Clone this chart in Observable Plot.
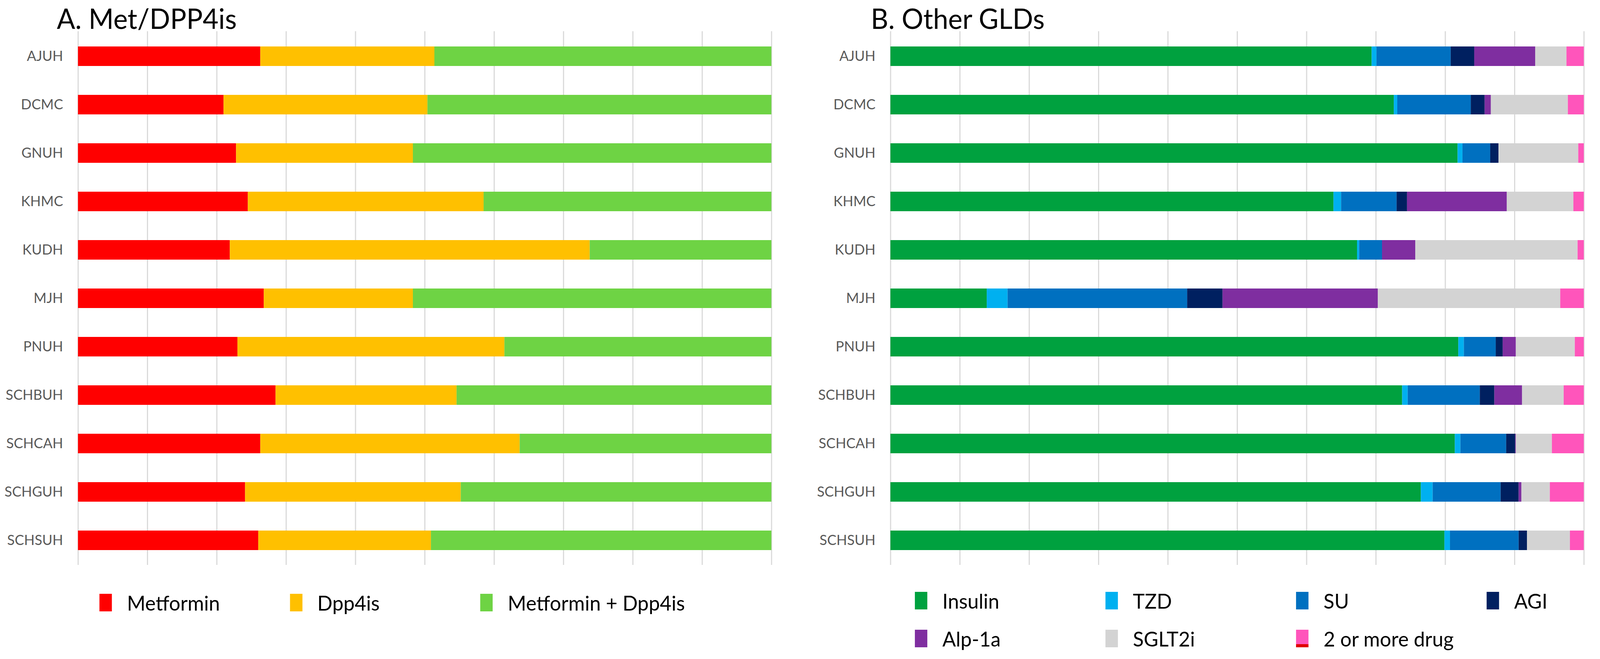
<!DOCTYPE html>
<html>
<head>
<meta charset="utf-8">
<script src="https://cdn.jsdelivr.net/npm/d3@7"></script>
<script src="https://cdn.jsdelivr.net/npm/@observablehq/plot@0.6"></script>
<style>
  html, body { margin: 0; padding: 0; background: #fff; overflow: hidden; }
  body { width: 100vw; height: 100vh; font-family: Lato, "Open Sans", sans-serif; }
  #root { position: absolute; left: 0; top: 0; width: 4248px; height: 1688px; transform-origin: 0 0; }
  .title { position: absolute; font-size: 72px; line-height: 72px; color: #000; white-space: nowrap; }
  .panel { position: absolute; }
  .sw { position: absolute; width: 33px; height: 45px; }
  .lab { position: absolute; font-size: 53px; line-height: 53px; color: #000; white-space: nowrap; }
</style>
</head>
<body>
<div id="root"></div>
<script>
// ---- data ----
const hospitals = ["AJUH","DCMC","GNUH","KHMC","KUDH","MJH","PNUH","SCHBUH","SCHCAH","SCHGUH","SCHSUH"];

// Panel A: Met/DPP4is (percent of patients)
const seriesA = ["Metformin","Dpp4is","Metformin + Dpp4is"];
const colorsA = ["#FF0000","#FFC000","#6ED344"];
const metformin = [26.3,21.0,22.8,24.5,21.9,26.8,23.0,28.5,26.3,24.1,26.0];
const dpp4is    = [25.1,29.4,25.5,34.0,51.9,21.5,38.5,26.1,37.4,31.1,24.9];
const metDpp4   = [48.6,49.6,51.7,41.5,26.2,51.7,38.5,45.4,36.3,44.8,49.1];

// Panel B: Other GLDs (percent of patients)
const seriesB = ["Insulin","TZD","SU","AGI","Alp-1a","SGLT2i","2 or more drug"];
const colorsB = ["#00A13F","#00B0F0","#0070C0","#002060","#7F2EA0","#D3D3D3","#FF55BB"];
const insulin = [69.4,72.6,81.8,63.9,67.3,13.9,81.9,73.8,81.4,76.5,79.9];
const tzd     = [0.7,0.5,0.7,1.1,0.3,3.0,0.8,0.8,0.8,1.7,0.8];
const su      = [10.7,10.6,4.0,8.0,3.3,25.9,4.6,10.4,6.6,9.8,9.9];
const agi     = [3.4,2.0,1.2,1.5,0,5.1,1.0,2.1,1.3,2.6,1.2];
const alp1a   = [8.8,0.9,0,14.4,4.8,22.4,1.9,4.0,0.1,0.4,0];
const sglt2i  = [4.5,11.1,11.5,9.6,23.4,26.3,8.5,6.0,5.2,4.1,6.2];
const twoPlus = [2.5,2.3,0.8,1.5,0.9,3.4,1.3,2.9,4.6,4.9,2.0];

const titleA = "A. Met/DPP4is";
const titleB = "B. Other GLDs";

// ---- build tidy tables ----
function tidy(series, valueArrays) {
  const rows = [];
  hospitals.forEach((h, i) => {
    series.forEach((s, j) => rows.push({hospital: h, series: s, value: valueArrays[j][i]}));
  });
  return rows;
}
const dataA = tidy(seriesA, [metformin, dpp4is, metDpp4]);
const dataB = tidy(seriesB, [insulin, tzd, su, agi, alp1a, sglt2i, twoPlus]);

const root = document.getElementById("root");
// fit the 4248x1688 design to whatever viewport the page is opened in
function fit() {
  const sx = window.innerWidth / 4248, sy = window.innerHeight / 1688;
  root.style.transform = `scale(${sx}, ${sy})`;
}
fit();
window.addEventListener("resize", fit);

function panel(data, series, colors, left) {
  const chart = Plot.plot({
    width: 2068,
    height: 1407,
    marginLeft: 207,
    marginRight: 20,
    marginTop: 20,
    marginBottom: 20,
    style: {fontFamily: "Lato, 'Open Sans', sans-serif", fontSize: "37px", color: "#595959", background: "transparent", overflow: "visible", maxWidth: "none"},
    x: {domain: [0, 100], axis: null},
    y: {domain: hospitals, paddingInner: 0.6, paddingOuter: 0.3, label: null, axis: null},
    color: {domain: series, range: colors},
    marks: [
      Plot.gridX({ticks: 10, stroke: "#D9D9D9", strokeOpacity: 1, strokeWidth: 3}),
      Plot.barX(data, Plot.stackX({x: "value", y: "hospital", fill: "series", order: null})),
      Plot.axisY({tickSize: 0, tickPadding: 40, label: null, fontSize: 37})
    ]
  });
  const wrap = document.createElement("div");
  wrap.className = "panel";
  wrap.style.left = left + "px";
  wrap.style.top = "60px";
  wrap.style.width = "2068px";
  wrap.appendChild(chart);
  root.appendChild(wrap);
}

panel(dataA, seriesA, colorsA, 0);
panel(dataB, seriesB, colorsB, 2157);

function addTitle(text, left) {
  const d = document.createElement("div");
  d.className = "title";
  d.textContent = text;
  d.style.left = left + "px";
  d.style.top = (74 - 0.887 * 72) + "px";
  root.appendChild(d);
}
addTitle(titleA, 151);
addTitle(titleB, 2312);

function legend(series, colors, x0, colStep, y0, rowStep, ncol) {
  series.forEach((s, i) => {
    const c = i % ncol, r = Math.floor(i / ncol);
    const x = x0 + c * colStep, y = y0 + r * rowStep;
    const sw = document.createElement("div");
    sw.className = "sw";
    sw.style.left = x + "px";
    sw.style.top = y + "px";
    sw.style.background = colors[i];
    if (s === "2 or more drug") sw.style.background = `linear-gradient(to bottom, ${colors[i]} 0 82%, #E00000 82% 100%)`;
    root.appendChild(sw);
    const lb = document.createElement("div");
    lb.className = "lab";
    lb.textContent = s;
    lb.style.left = (x + 73) + "px";
    lb.style.top = (y + 45 - 2 - 0.887 * 53) + "px";
    root.appendChild(lb);
  });
}
legend(seriesA, colorsA, 264, 505.5, 1521, 0, 3);
legend(seriesB, colorsB, 2429, 506, 1516, 97, 4);
</script>
</body>
</html>
